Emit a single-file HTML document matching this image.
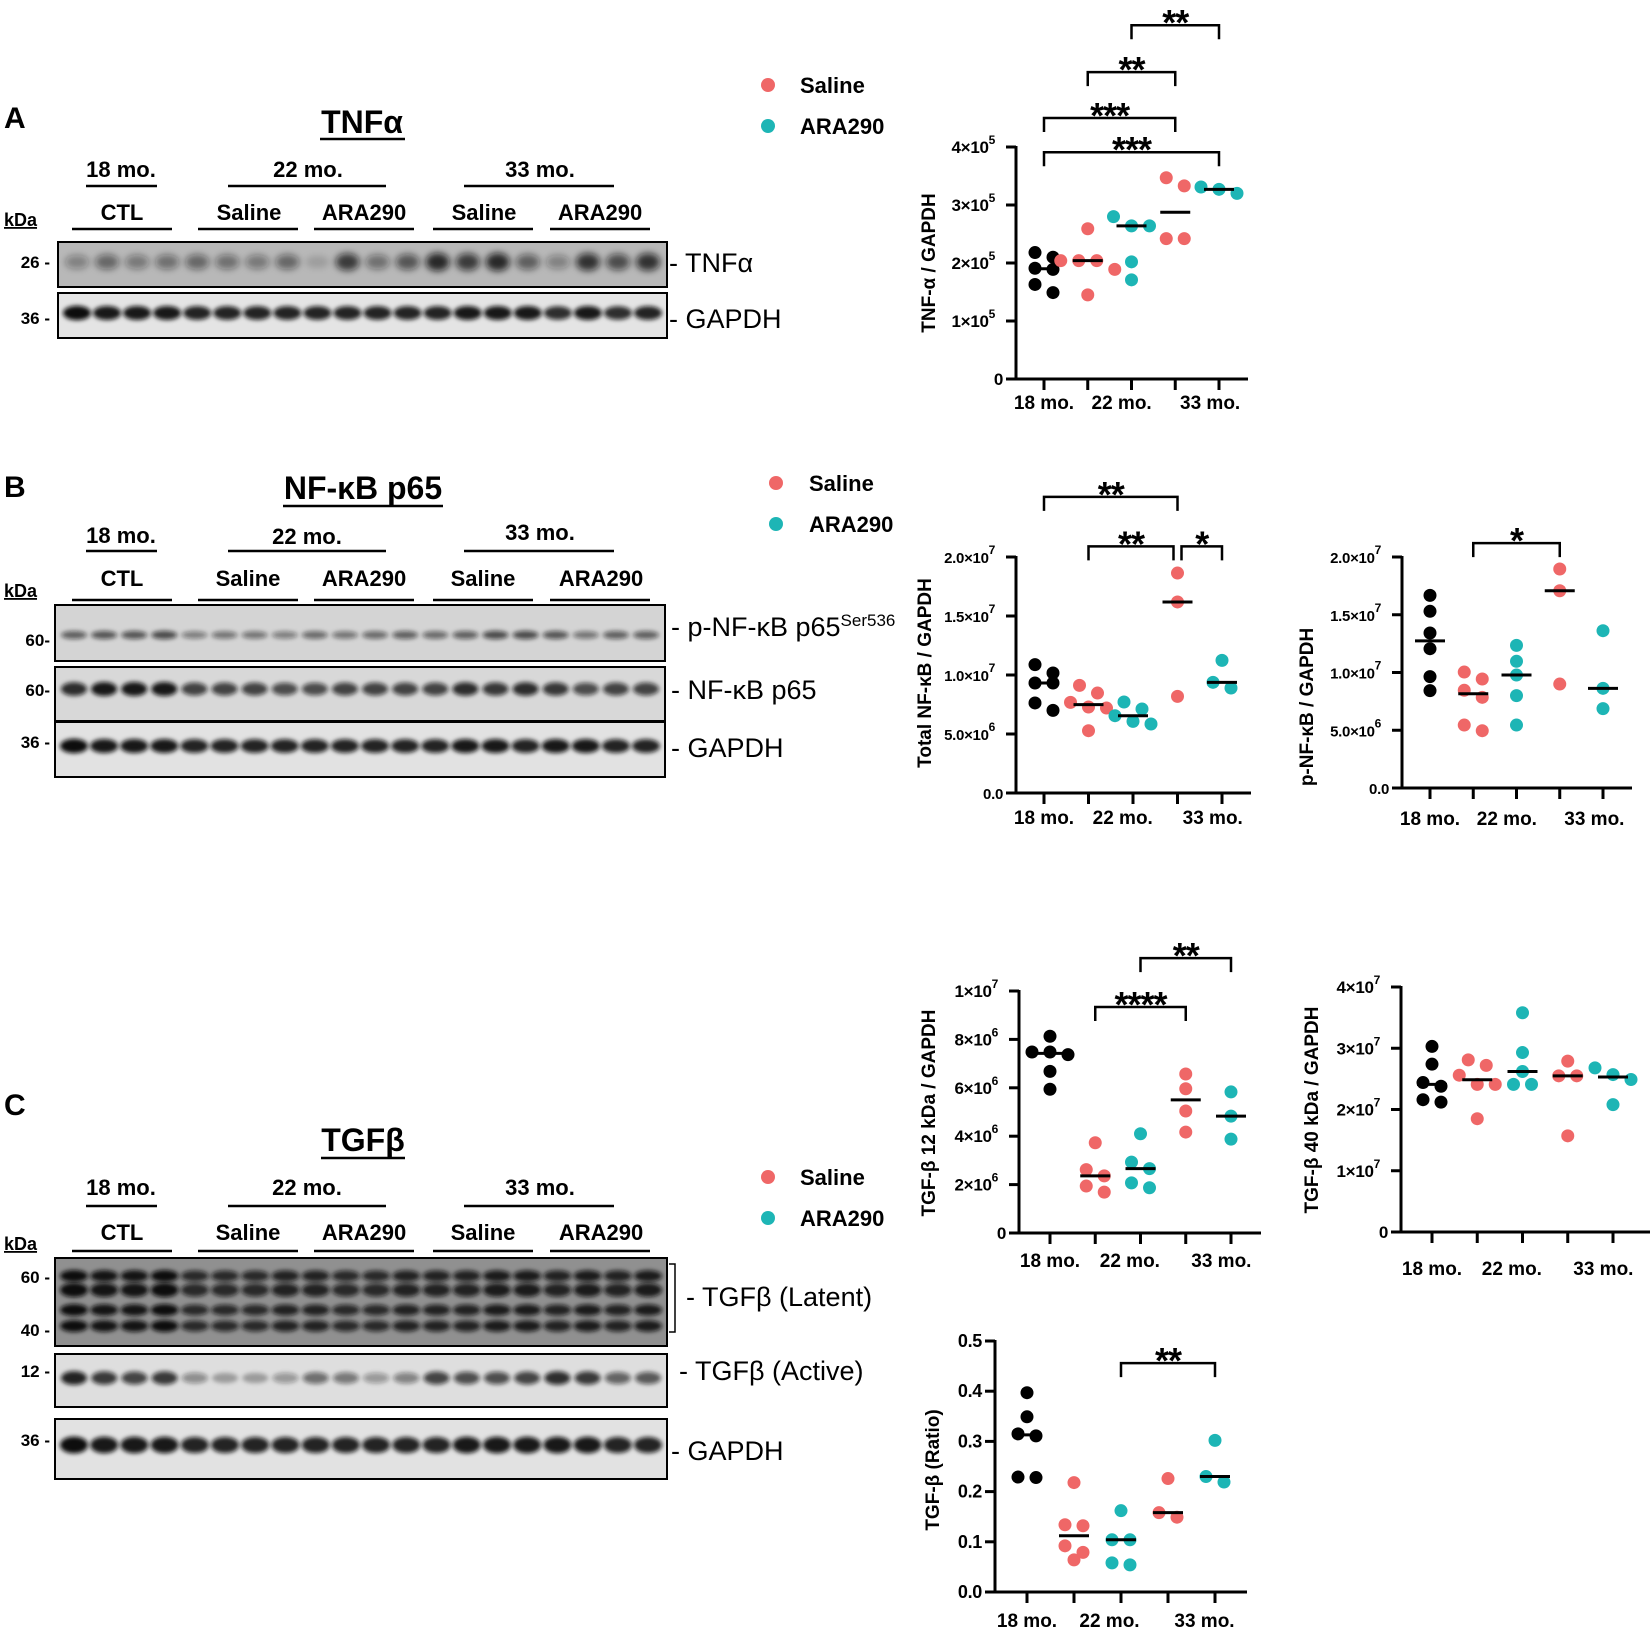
<!DOCTYPE html>
<html><head><meta charset="utf-8">
<style>
html,body{margin:0;padding:0;background:#fff;}
svg{display:block;font-family:"Liberation Sans",Arial,sans-serif;}
</style></head>
<body>
<svg id="fig" width="1650" height="1631" viewBox="0 0 1650 1631" xmlns="http://www.w3.org/2000/svg">
<defs>
<filter id="blur" x="-50%" y="-50%" width="200%" height="200%"><feGaussianBlur stdDeviation="2"/></filter>
<filter id="blur2" x="-50%" y="-50%" width="200%" height="200%"><feGaussianBlur stdDeviation="3.5"/></filter>
</defs>

<text x="4" y="128" font-size="30" font-weight="bold">A</text>
<text x="362" y="133" font-size="32" font-weight="bold" text-anchor="middle">TNFα</text>
<line x1="320" y1="139" x2="405" y2="139" stroke="#000" stroke-width="2.5"/>
<g font-size="22" font-weight="bold" text-anchor="middle">
<text x="121" y="177">18 mo.</text>
<text x="308" y="177">22 mo.</text>
<text x="540" y="177">33 mo.</text>
<line x1="86" y1="186" x2="157" y2="186" stroke="#000" stroke-width="2.5"/>
<line x1="228" y1="186" x2="386" y2="186" stroke="#000" stroke-width="2.5"/>
<line x1="464" y1="186" x2="614" y2="186" stroke="#000" stroke-width="2.5"/>
<text x="122" y="220">CTL</text>
<text x="249" y="220">Saline</text>
<text x="364" y="220">ARA290</text>
<text x="484" y="220">Saline</text>
<text x="600" y="220">ARA290</text>
<line x1="72" y1="229" x2="172" y2="229" stroke="#000" stroke-width="2.5"/>
<line x1="198" y1="229" x2="298" y2="229" stroke="#000" stroke-width="2.5"/>
<line x1="314" y1="229" x2="414" y2="229" stroke="#000" stroke-width="2.5"/>
<line x1="433" y1="229" x2="533" y2="229" stroke="#000" stroke-width="2.5"/>
<line x1="550" y1="229" x2="650" y2="229" stroke="#000" stroke-width="2.5"/>
</g>
<text x="4" y="226" font-size="18" font-weight="bold" text-decoration="underline">kDa</text>
<g font-size="17" font-weight="bold" text-anchor="end">
<text x="50" y="268">26 -</text>
<text x="50" y="324">36 -</text>
</g>
<g font-size="27">
<text x="669" y="272">- TNFα</text>
<text x="669" y="328">- GAPDH</text>
</g>

<text x="4" y="497" font-size="30" font-weight="bold">B</text>
<text x="363" y="499" font-size="32" font-weight="bold" text-anchor="middle">NF-κB p65</text>
<line x1="283" y1="506" x2="443" y2="506" stroke="#000" stroke-width="2.5"/>
<g font-size="22" font-weight="bold" text-anchor="middle">
<text x="121" y="543">18 mo.</text>
<text x="307" y="544">22 mo.</text>
<text x="540" y="540">33 mo.</text>
<line x1="86" y1="551" x2="157" y2="551" stroke="#000" stroke-width="2.5"/>
<line x1="228" y1="551" x2="386" y2="551" stroke="#000" stroke-width="2.5"/>
<line x1="464" y1="551" x2="614" y2="551" stroke="#000" stroke-width="2.5"/>
<text x="122" y="586">CTL</text>
<text x="248" y="586">Saline</text>
<text x="364" y="586">ARA290</text>
<text x="483" y="586">Saline</text>
<text x="601" y="586">ARA290</text>
<line x1="72" y1="600" x2="172" y2="600" stroke="#000" stroke-width="2.5"/>
<line x1="198" y1="600" x2="298" y2="600" stroke="#000" stroke-width="2.5"/>
<line x1="314" y1="600" x2="414" y2="600" stroke="#000" stroke-width="2.5"/>
<line x1="433" y1="600" x2="533" y2="600" stroke="#000" stroke-width="2.5"/>
<line x1="550" y1="600" x2="650" y2="600" stroke="#000" stroke-width="2.5"/>
</g>
<text x="4" y="597" font-size="18" font-weight="bold" text-decoration="underline">kDa</text>
<g font-size="17" font-weight="bold" text-anchor="end">
<text x="50" y="646">60-</text>
<text x="50" y="696">60-</text>
<text x="50" y="748">36 -</text>
</g>
<g font-size="27">
<text x="671" y="636">- p-NF-κB p65<tspan font-size="17" dy="-10">Ser536</tspan></text>
<text x="671" y="699">- NF-κB p65</text>
<text x="671" y="757">- GAPDH</text>
</g>

<text x="4" y="1115" font-size="30" font-weight="bold">C</text>
<text x="363" y="1151" font-size="32" font-weight="bold" text-anchor="middle">TGFβ</text>
<line x1="321" y1="1158" x2="405" y2="1158" stroke="#000" stroke-width="2.5"/>
<g font-size="22" font-weight="bold" text-anchor="middle">
<text x="121" y="1195">18 mo.</text>
<text x="307" y="1195">22 mo.</text>
<text x="540" y="1195">33 mo.</text>
<line x1="86" y1="1206" x2="157" y2="1206" stroke="#000" stroke-width="2.5"/>
<line x1="228" y1="1206" x2="386" y2="1206" stroke="#000" stroke-width="2.5"/>
<line x1="464" y1="1206" x2="614" y2="1206" stroke="#000" stroke-width="2.5"/>
<text x="122" y="1240">CTL</text>
<text x="248" y="1240">Saline</text>
<text x="364" y="1240">ARA290</text>
<text x="483" y="1240">Saline</text>
<text x="601" y="1240">ARA290</text>
<line x1="72" y1="1251" x2="172" y2="1251" stroke="#000" stroke-width="2.5"/>
<line x1="198" y1="1251" x2="298" y2="1251" stroke="#000" stroke-width="2.5"/>
<line x1="314" y1="1251" x2="414" y2="1251" stroke="#000" stroke-width="2.5"/>
<line x1="433" y1="1251" x2="533" y2="1251" stroke="#000" stroke-width="2.5"/>
<line x1="550" y1="1251" x2="650" y2="1251" stroke="#000" stroke-width="2.5"/>
</g>
<text x="4" y="1250" font-size="18" font-weight="bold" text-decoration="underline">kDa</text>
<g font-size="17" font-weight="bold" text-anchor="end">
<text x="50" y="1283">60 -</text>
<text x="50" y="1336">40 -</text>
<text x="50" y="1377">12 -</text>
<text x="50" y="1446">36 -</text>
</g>
<path d="M669,1264 H675 V1332 H669" fill="none" stroke="#000" stroke-width="1.5"/>
<g font-size="27">
<text x="686" y="1306">- TGFβ (Latent)</text>
<text x="679" y="1380">- TGFβ (Active)</text>
<text x="671" y="1460">- GAPDH</text>
</g>

<g font-size="22" font-weight="bold">
<circle cx="768" cy="85" r="7" fill="#ef6767"/>
<text x="800" y="93">Saline</text>
<circle cx="768" cy="126" r="7" fill="#1db5b5"/>
<text x="800" y="134">ARA290</text>
</g>
<g font-size="22" font-weight="bold">
<circle cx="776" cy="483" r="7" fill="#ef6767"/>
<text x="809" y="491">Saline</text>
<circle cx="776" cy="524" r="7" fill="#1db5b5"/>
<text x="809" y="532">ARA290</text>
</g>
<g font-size="22" font-weight="bold">
<circle cx="768" cy="1177" r="7" fill="#ef6767"/>
<text x="800" y="1185">Saline</text>
<circle cx="768" cy="1218" r="7" fill="#1db5b5"/>
<text x="800" y="1226">ARA290</text>
</g>

<g id="blots"></g>
<g id="charts"></g>
</svg>

<script>
const catLabels = ["18 mo.", "22 mo.", "33 mo."];

const tnfCTL   = [2.18, 2.10, 1.91, 1.89, 1.63, 1.49];
const tnfSal22 = [2.59, 2.04, 2.04, 2.04, 1.89, 1.45];
const tnfAra22 = [2.80, 2.64, 2.64, 2.02, 1.71];
const tnfSal33 = [3.47, 3.33, 2.42, 2.42];
const tnfAra33 = [3.31, 3.27, 3.20];
const tnfTicks = [0, 1, 2, 3, 4];
const tnfTickLabels = [["0",""],["1×10","5"],["2×10","5"],["3×10","5"],["4×10","5"]];
const tnfBrackets = [[2,4,6.1,"**"],[1,3,5.29,"**"],[0,3,4.5,"***"],[0,4,3.91,"***"]];

const nfkCTL   = [1.088, 1.017, 0.932, 0.932, 0.763, 0.70];
const nfkSal22 = [0.912, 0.847, 0.768, 0.729, 0.72, 0.528];
const nfkAra22 = [0.771, 0.712, 0.655, 0.607, 0.585];
const nfkSal33 = [1.864, 1.619, 0.819];
const nfkAra33 = [1.124, 0.938, 0.89];
const nfkTicks = [0, 0.5, 1.0, 1.5, 2.0];
const nfkTickLabels = [["0.0",""],["5.0×10","6"],["1.0×10","7"],["1.5×10","7"],["2.0×10","7"]];
const nfkBrackets = [[0,3,2.51,"**"],[1,3,2.09,"**"],[3,4,2.09,"*"]];

const pnfCTL   = [1.668, 1.53, 1.342, 1.206, 0.964, 0.843];
const pnfSal22 = [1.004, 0.944, 0.846, 0.785, 0.545, 0.496];
const pnfAra22 = [1.235, 1.097, 0.978, 0.80, 0.545];
const pnfSal33 = [1.896, 1.708, 0.90];
const pnfAra33 = [1.362, 0.863, 0.687];
const pnfTicks = [0, 0.5, 1.0, 1.5, 2.0];
const pnfTickLabels = [["0.0",""],["5.0×10","6"],["1.0×10","7"],["1.5×10","7"],["2.0×10","7"]];
const pnfBrackets = [[1,3,2.12,"*"]];

const t12CTL   = [8.13, 7.48, 7.48, 7.37, 6.68, 5.94];
const t12Sal22 = [3.73, 2.62, 2.36, 1.94, 1.69];
const t12Ara22 = [4.10, 2.93, 2.66, 2.07, 1.87];
const t12Sal33 = [6.57, 5.96, 5.04, 4.17];
const t12Ara33 = [5.83, 4.83, 3.88];
const t12Ticks = [0, 2, 4, 6, 8, 10];
const t12TickLabels = [["0",""],["2×10","6"],["4×10","6"],["6×10","6"],["8×10","6"],["1×10","7"]];
const t12Brackets = [[2,4,11.36,"**"],[1,3,9.34,"****"]];

const t40CTL   = [3.03, 2.74, 2.44, 2.38, 2.16, 2.12];
const t40Sal22 = [2.81, 2.72, 2.56, 2.41, 2.41, 1.85];
const t40Ara22 = [3.58, 2.93, 2.62, 2.41, 2.41];
const t40Sal33 = [2.79, 2.55, 2.55, 1.57];
const t40Ara33 = [2.68, 2.57, 2.49, 2.08];
const t40Ticks = [0, 1, 2, 3, 4];
const t40TickLabels = [["0",""],["1×10","7"],["2×10","7"],["3×10","7"],["4×10","7"]];
const t40Brackets = [];

const ratCTL   = [0.397, 0.349, 0.315, 0.311, 0.229, 0.228];
const ratSal22 = [0.218, 0.134, 0.132, 0.092, 0.079, 0.064];
const ratAra22 = [0.162, 0.104, 0.104, 0.058, 0.054];
const ratSal33 = [0.226, 0.158, 0.149];
const ratAra33 = [0.302, 0.23, 0.219];
const ratTicks = [0, 0.1, 0.2, 0.3, 0.4, 0.5];
const ratTickLabels = [["0.0",""],["0.1",""],["0.2",""],["0.3",""],["0.4",""],["0.5",""]];
const ratBrackets = [[2,4,0.456,"**"]];

const NS = "http://www.w3.org/2000/svg";
const COLORS = ["#000000", "#ef6767", "#1db5b5", "#ef6767", "#1db5b5"];

function mk(tag, attrs, parent) {
  const e = document.createElementNS(NS, tag);
  for (const k in attrs) e.setAttribute(k, attrs[k]);
  parent.appendChild(e);
  return e;
}
function median(a) {
  const s = a.slice().sort((p, q) => p - q);
  const n = s.length;
  return n % 2 ? s[(n - 1) / 2] : (s[n / 2 - 1] + s[n / 2]) / 2;
}

function drawChart(name, geo, groups, ticks, tickLabels, brackets, title) {
  const root = document.getElementById("charts");
  const g = mk("g", {}, root);
  
  
  const vmax = ticks[ticks.length - 1];
  const yv = v => geo.y0 - (v / vmax) * (geo.y0 - geo.yTop);
  const xc = i => geo.x0 + i * geo.dx;
  const tfs = geo.tfs || 17;

  const ya = mk("line", {x1: geo.ax, y1: geo.yTop - 1, x2: geo.ax, y2: geo.y0, stroke: "#000", "stroke-width": 3}, g);
  
  
  const xa = mk("line", {x1: geo.ax - 10, y1: geo.y0, x2: geo.xEnd, y2: geo.y0, stroke: "#000", "stroke-width": 3}, g);
  
  

  ticks.forEach((t, i) => {
    const y = yv(t);
    if (i > 0) {
      const tk = mk("line", {x1: geo.ax - 10, y1: y, x2: geo.ax, y2: y, stroke: "#000", "stroke-width": 3}, g);
      
      
    }
    const tx = mk("text", {x: geo.ax - 13, y: y + 6, "font-size": tfs, "font-weight": "bold", "text-anchor": "end", "letter-spacing": "-0.3"}, g);
    
    
    const lab = tickLabels[i];
    if (lab[1]) {
      tx.setAttribute("x", geo.ax - 13 - 8);
      tx.appendChild(document.createTextNode(lab[0]));
      const sp = mk("tspan", {"font-size": 12, dy: -9}, tx);
      sp.textContent = lab[1];
    } else {
      tx.textContent = lab[0];
    }
  });

  for (let i = 0; i < 5; i++) {
    const tk = mk("line", {x1: xc(i), y1: geo.y0, x2: xc(i), y2: geo.y0 + 11, stroke: "#000", "stroke-width": 3}, g);
    
    
  }
  const labX = [xc(0), (xc(1) + xc(2)) / 2 + 12, (xc(3) + xc(4)) / 2 + 13];
  catLabels.forEach((c, i) => {
    const tx = mk("text", {x: labX[i], y: geo.labelY + 7, "font-size": 19, "font-weight": "bold", "text-anchor": "middle"}, g);
    
    
    tx.textContent = c;
  });

  const tt = mk("text", {x: 0, y: 0, "font-size": 19, "font-weight": "bold", "text-anchor": "middle",
    transform: "translate(" + geo.titleX + "," + geo.titleY + ") rotate(-90)"}, g);
  
  
  tt.setAttribute("dy", "7");
  tt.textContent = title;

  const R = 6.5, SP = 18;
  groups.forEach((vals, gi) => {
    const pts = vals.map(v => ({v: v, y: yv(v)})).sort((a, b) => a.y - b.y);
    let clusters = [];
    pts.forEach(p => {
      const last = clusters[clusters.length - 1];
      if (last && Math.abs(p.y - last[0].y) < 2 * R - 0.5) last.push(p);
      else clusters.push([p]);
    });
    clusters.forEach(cl => {
      cl.forEach((p, k) => {
        const off = (k - (cl.length - 1) / 2) * SP;
        const c = mk("circle", {cx: xc(gi) + off, cy: p.y, r: R, fill: COLORS[gi]}, g);
        
        
      });
    });
    const m = yv(median(vals));
    const ml = mk("line", {x1: xc(gi) - 15, y1: m, x2: xc(gi) + 15, y2: m, stroke: "#000", "stroke-width": 3}, g);
    
    
  });

  brackets.forEach(b => {
    let xa0 = xc(b[0]), xb0 = xc(b[1]);
    brackets.forEach(o => {
      if (o !== b && o[2] === b[2]) {
        if (o[1] === b[0]) xa0 += 4;
        if (o[0] === b[1]) xb0 -= 4;
      }
    });
    const y = yv(b[2]);
    const p = mk("path", {d: "M" + xa0 + "," + (y + 14) + " V" + y + " H" + xb0 + " V" + (y + 14),
      fill: "none", stroke: "#000", "stroke-width": 2.5}, g);
    
    
    const s = mk("text", {x: (xa0 + xb0) / 2, y: y + 10, "font-size": 36, "font-weight": "bold", "text-anchor": "middle", "letter-spacing": "-1"}, g);
    
    
    s.textContent = b[3];
  });
}

drawChart("tnf-chart", {ax: 1016, y0: 379, yTop: 147, x0: 1044, dx: 43.75, xEnd: 1248, labelY: 402, titleX: 928, titleY: 263, tfs: 17},
  [tnfCTL, tnfSal22, tnfAra22, tnfSal33, tnfAra33], tnfTicks, tnfTickLabels, tnfBrackets, "TNF-α / GAPDH");
drawChart("total-nfkb-chart", {ax: 1016, y0: 793, yTop: 557, x0: 1044, dx: 44.5, xEnd: 1251, labelY: 817, titleX: 924, titleY: 673, tfs: 15},
  [nfkCTL, nfkSal22, nfkAra22, nfkSal33, nfkAra33], nfkTicks, nfkTickLabels, nfkBrackets, "Total NF-κB / GAPDH");
drawChart("p-nfkb-chart", {ax: 1402, y0: 788, yTop: 557, x0: 1430, dx: 43.25, xEnd: 1632, labelY: 818, titleX: 1306, titleY: 707, tfs: 15},
  [pnfCTL, pnfSal22, pnfAra22, pnfSal33, pnfAra33], pnfTicks, pnfTickLabels, pnfBrackets, "p-NF-κB / GAPDH");
drawChart("tgfb-12kda-chart", {ax: 1019, y0: 1233, yTop: 991, x0: 1050, dx: 45.25, xEnd: 1261, labelY: 1260, titleX: 928, titleY: 1113, tfs: 17},
  [t12CTL, t12Sal22, t12Ara22, t12Sal33, t12Ara33], t12Ticks, t12TickLabels, t12Brackets, "TGF-β 12 kDa / GAPDH");
drawChart("tgfb-40kda-chart", {ax: 1401, y0: 1232, yTop: 987, x0: 1432, dx: 45.25, xEnd: 1650, labelY: 1268, titleX: 1311, titleY: 1110, tfs: 17},
  [t40CTL, t40Sal22, t40Ara22, t40Sal33, t40Ara33], t40Ticks, t40TickLabels, t40Brackets, "TGF-β 40 kDa / GAPDH");
drawChart("tgfb-ratio-chart", {ax: 995, y0: 1592, yTop: 1341, x0: 1027, dx: 47, xEnd: 1247, labelY: 1620, titleX: 932, titleY: 1470, tfs: 18},
  [ratCTL, ratSal22, ratAra22, ratSal33, ratAra33], ratTicks, ratTickLabels, ratBrackets, "TGF-β (Ratio)");

const tnfBand   = [.35,.5,.4,.45,.5,.45,.4,.5,.15,.75,.45,.6,.85,.75,.85,.55,.35,.8,.65,.8];
const gapA      = [1,.95,.95,.95,.9,.9,.9,.9,.9,.9,.9,.9,.9,.95,.95,.95,.85,.95,.85,.9];
const pnfBand   = [.6,.65,.65,.7,.45,.5,.5,.45,.55,.5,.55,.6,.55,.6,.7,.7,.65,.5,.6,.6];
const nfkBand   = [.85,.95,.95,.95,.75,.75,.75,.7,.7,.75,.75,.75,.75,.85,.8,.85,.8,.7,.75,.75];
const gapB      = [1,.95,.95,.95,.9,.9,.9,.9,.9,.9,.9,.9,.9,.95,.95,.9,.95,.95,.9,.9];
const latBand   = [1,.95,.95,1,.8,.8,.8,.85,.85,.8,.8,.85,.85,.85,.9,.9,.85,.9,.85,.9];
const actBand   = [.9,.8,.75,.8,.4,.3,.3,.35,.55,.5,.35,.45,.75,.7,.7,.75,.85,.8,.6,.65];
const gapC      = [1,.95,.95,.95,.9,.9,.9,.9,.9,.9,.9,.9,.9,.95,.95,.95,.95,.95,.9,.9];

function blot(name, x, y, w, h, bg, rows) {
  const root = document.getElementById("blots");
  const g = mk("g", {}, root);
  
  
  const r = mk("rect", {x: x, y: y, width: w, height: h, fill: bg}, g);
  
  
  const lw = (w - 38) / 19;
  rows.forEach(row => {
    row.vals.forEach((v, i) => {
      const e = mk("ellipse", {cx: x + 19 + i * lw, cy: y + row.cy, rx: row.rx, ry: row.ry * (0.7 + 0.5 * v),
        fill: "#111", "fill-opacity": v, filter: row.soft ? "url(#blur2)" : "url(#blur)"}, g);
      
      
    });
  });
  const b = mk("rect", {x: x, y: y, width: w, height: h, fill: "none", stroke: "#000", "stroke-width": 2}, g);
  
  
}

blot("tnf-blot", 58, 242, 609, 45, "#b8b8b8", [{cy: 20, rx: 12, ry: 8, vals: tnfBand, soft: true}]);
blot("gapdh-blot-a", 58, 293, 609, 45, "#e4e4e4", [{cy: 20, rx: 14, ry: 6, vals: gapA}]);
blot("p-nfkb-blot", 55, 605, 610, 56, "#d4d4d4", [{cy: 30, rx: 13, ry: 4, vals: pnfBand}]);
blot("nfkb-blot", 55, 667, 610, 54, "#d8d8d8", [{cy: 22, rx: 13, ry: 6, vals: nfkBand}]);
blot("gapdh-blot-b", 55, 722, 610, 55, "#e2e2e2", [{cy: 24, rx: 14, ry: 6, vals: gapB}]);
blot("tgfb-latent-blot", 55, 1258, 612, 88, "#909090", [
  {cy: 18, rx: 14, ry: 5, vals: latBand},
  {cy: 32, rx: 14, ry: 6, vals: latBand},
  {cy: 52, rx: 14, ry: 5, vals: latBand},
  {cy: 68, rx: 14, ry: 5, vals: latBand}]);
blot("tgfb-active-blot", 55, 1354, 612, 53, "#dedede", [{cy: 24, rx: 13, ry: 6, vals: actBand}]);
blot("gapdh-blot-c", 55, 1419, 612, 60, "#e2e2e2", [{cy: 26, rx: 14, ry: 7, vals: gapC}]);
</script>
</body></html>
